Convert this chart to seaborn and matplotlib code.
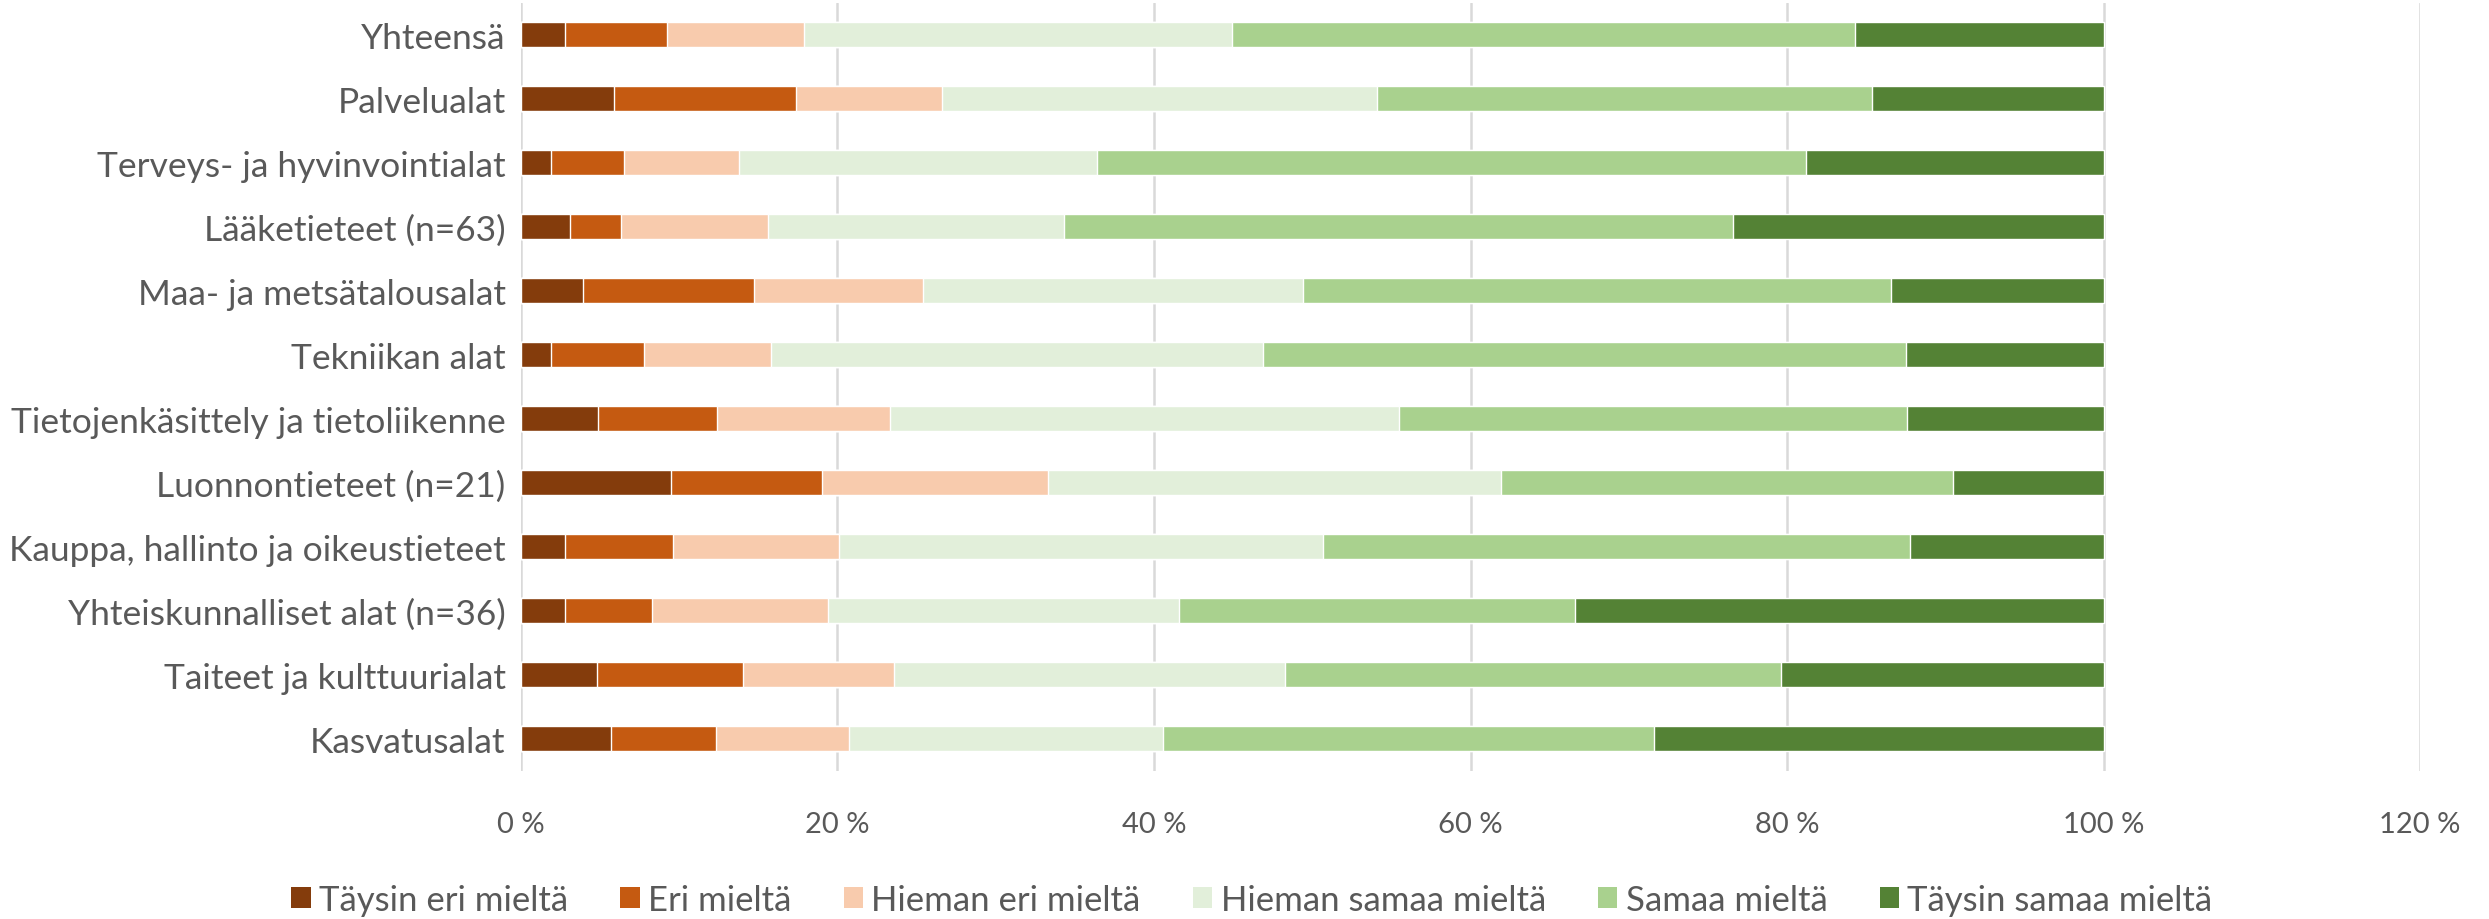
import matplotlib
matplotlib.use("Agg")
import pandas as pd
import matplotlib.pyplot as plt
from matplotlib.patches import Patch
import seaborn as sns

# data (percentages)
categories = ["Yhteensä", "Palvelualat", "Terveys- ja hyvinvointialat", "Lääketieteet (n=63)",
              "Maa- ja metsätalousalat", "Tekniikan alat", "Tietojenkäsittely ja tietoliikenne",
              "Luonnontieteet (n=21)", "Kauppa, hallinto ja oikeustieteet",
              "Yhteiskunnalliset alat (n=36)", "Taiteet ja kulttuurialat", "Kasvatusalat"]
levels = ["Täysin eri mieltä", "Eri mieltä", "Hieman eri mieltä",
          "Hieman samaa mieltä", "Samaa mieltä", "Täysin samaa mieltä"]
colors = ["#843C0C", "#C55A11", "#F8CBAD", "#E2EFDA", "#A9D18E", "#548235"]

taysin_eri = [2.8, 5.9, 1.9, 3.1, 3.9, 1.9, 4.9, 9.5, 2.8, 2.8, 4.8, 5.7]
eri = [6.4, 11.5, 4.6, 3.2, 10.8, 5.9, 7.5, 9.5, 6.8, 5.5, 9.2, 6.6]
hieman_eri = [8.7, 9.2, 7.3, 9.3, 10.7, 8.0, 10.9, 14.3, 10.5, 11.1, 9.6, 8.4]
hieman_samaa = [27.0, 27.5, 22.6, 18.7, 24.0, 31.1, 32.2, 28.6, 30.6, 22.2, 24.7, 19.9]
samaa = [39.4, 31.3, 44.8, 42.3, 37.2, 40.6, 32.1, 28.6, 37.1, 25.0, 31.3, 31.0]
taysin_samaa = [15.7, 14.6, 18.8, 23.4, 13.4, 12.5, 12.4, 9.5, 12.2, 33.4, 20.4, 28.4]

df = pd.DataFrame({
    levels[0]: taysin_eri, levels[1]: eri, levels[2]: hieman_eri,
    levels[3]: hieman_samaa, levels[4]: samaa, levels[5]: taysin_samaa,
}, index=categories)
# normalise rows to 100 % and stack
df = df.div(df.sum(axis=1), axis=0) * 100
cum = df.cumsum(axis=1)

sns.set_style("white")
plt.rcParams["font.family"] = ["Lato", "DejaVu Sans"]
txt = "#595959"

fig = plt.figure(figsize=(24.89, 9.2), dpi=100)
ax = fig.add_axes([0.2093, 0.161, 0.763, 0.8347])

# stacked bars: draw cumulative totals from the right, smaller ones on top
for lev, col in reversed(list(zip(levels, colors))):
    sns.barplot(x=cum[lev].values, y=categories, orient="h", color=col,
                saturation=1, width=0.39, errorbar=None, ax=ax)

ax.set_xlim(0, 120)
ax.set_ylim(len(categories) - 0.5, -0.5)
ax.set_xticks(range(0, 121, 20))
ax.set_xticklabels([f"{v} %" for v in range(0, 121, 20)])
ax.grid(axis="x", color="#D9D9D9", linewidth=1.8)
ax.set_axisbelow(True)
for s in ax.spines.values():
    s.set_visible(False)
ax.tick_params(axis="y", length=0, pad=11, labelsize=25.5, labelcolor=txt)
ax.tick_params(axis="x", length=0, pad=29, labelsize=21, labelcolor=txt)
ax.set_xlabel("")
ax.set_ylabel("")

handles = [Patch(facecolor=c, edgecolor="none") for c in colors]
fig.legend(handles, levels, loc="center", bbox_to_anchor=(0.503, 0.021), ncol=6,
           frameon=False, fontsize=25, labelcolor=txt, handlelength=0.55,
           handleheight=0.55, handletextpad=0.25, columnspacing=1.5)

fig.savefig("out.png", dpi=100)
